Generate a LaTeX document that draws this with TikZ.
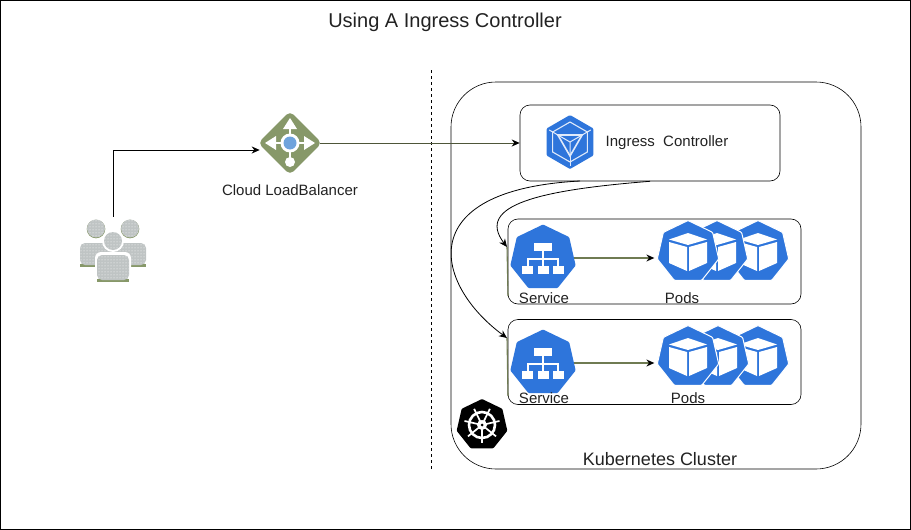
\documentclass[tikz,border=0pt]{standalone}
\usepackage{fontspec}
\setmainfont{Liberation Sans}
\usetikzlibrary{arrows,arrows.meta,calc,patterns,shapes.geometric}
\definecolor{kubeblue}{HTML}{2E75DB}
\definecolor{lbolive}{HTML}{879869}
\definecolor{edgeolive}{HTML}{6F7B52}
\definecolor{peoplegrey}{HTML}{BFC4C4}
\definecolor{txtdark}{HTML}{222222}
\definecolor{lbblue}{HTML}{6FA3DC}
\tikzset{
  pics/svcicon/.style={code={
    \path[fill=white] (-9,-15) rectangle (9,-7);
    \foreach \x in {-21,-5,10} {\path[fill=white] (\x,8) rectangle ++(11,8);}
    \path[draw=white,line width=1.4pt,-] (0,-7) -- (0,1);
    \path[draw=white,line width=1.4pt,-] (-15,8) -- (-15,1) -- (15,1) -- (15,8);
    \path[draw=white,line width=1.4pt,-] (0,1) -- (0,8);
  }},
  pics/cubeicon/.style={code={
    \path[fill=white] (0,-19) -- (19,-12.5) -- (0,-7) -- (-19,-12.5) -- cycle;
    \path[fill=white] (-19,-10) -- (-1,-5) -- (-1,19) -- (-19,11) -- cycle;
    \path[fill=white] (19,-10) -- (1,-5) -- (1,19) -- (19,11) -- cycle;
  }},
  pics/lbicon/.style={code={
    \path[draw=white,line width=2.6pt,-] (-19,0) -- (19,0) (0,-19) -- (0,15);
    \path[fill=white] (0,-25) -- (7,-14) -- (-7,-14) -- cycle;
    \path[fill=white] (-25,0) -- (-14,-7) -- (-14,7) -- cycle;
    \path[fill=white] (25,0) -- (14,-7) -- (14,7) -- cycle;
    \path[fill=white] (0,19) circle (5);
    \path[fill=white] (0,0) circle (9.5);
    \path[fill=lbblue] (0,0) circle (6.5);
  }},
  pics/ingicon/.style={code={
    \path[draw=white!85!kubeblue,line width=1.1pt,-] (90:20) -- (30:20) -- (-30:20) -- (-90:20) -- (-150:20) -- (150:20) -- cycle;
    \path[draw=white!85!kubeblue,line width=1.6pt,-] (-150:14) -- (-30:14) -- (90:14) -- cycle;
    \path[draw=white!85!kubeblue,line width=1pt,-] (-150:14) -- (0,0) (-30:14) -- (0,0) (90:14) -- (0,0);
    \foreach \a in {90,-30,-150} {\path[draw=white!85!kubeblue,line width=1pt,-] (\a:14) -- (\a:24);}
  }},
  pics/wheelicon/.style={code={
    \path[draw=white,line width=2.6pt,-] (0,0) circle (13);
    \foreach \a in {90,141,193,244,296,347,39} {\path[draw=white,line width=1.7pt,-] (\a:3) -- (\a:18);}
    \path[fill=white] (0,0) circle (5);
    \path[fill=black] (0,0) circle (1.5);
  }},
  pics/peopleicon/.style={code={
    \foreach \x in {-17,17} {
      \path[fill=lbolive] (\x-16,14) rectangle (\x+16,17);
      \path[fill=peoplegrey,postaction={pattern=dots,pattern color=white},rounded corners=5pt]
        (\x-16,15) -- (\x-16,-7) -- (\x+16,-7) -- (\x+16,15) -- cycle;
      \path[fill=lbolive] (\x,-21) circle (9.3);
      \path[fill=peoplegrey,postaction={pattern=dots,pattern color=white}] (\x,-21.5) circle (9);
    }
    \path[fill=white,rounded corners=6pt] (-18,33) -- (-18,2) -- (18,2) -- (18,33) -- cycle;
    \path[fill=white] (0,-9) circle (11);
    \path[fill=lbolive] (-16,29) rectangle (16,32);
    \path[fill=peoplegrey,postaction={pattern=dots,pattern color=white},rounded corners=5pt]
      (-16,30) -- (-16,5) -- (16,5) -- (16,30) -- cycle;
    \path[fill=peoplegrey,postaction={pattern=dots,pattern color=white}] (0,-9) circle (9);
  }}
}

\begin{document}
\begin{tikzpicture}[->,>={Stealth[length=8pt,width=7pt,black]},x=1pt,y=-1pt,semithick,
                    every node/.style={text=txtdark,font=\fontsize{15}{17}\selectfont}]
  \tikzstyle{cluster}=[rectangle,draw=black,fill=white,rounded corners=45pt,minimum width=410pt,minimum height=387pt,inner sep=0pt]
  \tikzstyle{place}=[rectangle,draw=black,fill=white,rounded corners=10pt,minimum width=293pt,minimum height=85pt,inner sep=0pt]
  \tikzstyle{svc}=[regular polygon,regular polygon sides=7,fill=kubeblue,minimum size=67pt,inner sep=0pt,rounded corners=1pt]
  \tikzstyle{pod}=[regular polygon,regular polygon sides=7,fill=kubeblue,draw=white,line width=1pt,minimum size=63pt,inner sep=0pt,rounded corners=1pt]
  \tikzstyle{link}=[draw=edgeolive!70!black,line width=.9pt,shorten <=-2pt]
  \tikzstyle{hop}=[draw=edgeolive,line width=1.4pt,shorten >=4pt]

  \useasboundingbox (0,0) rectangle (911,530);
  \path[draw=black,line width=1pt] (0.5,0.5) rectangle (910.5,529.5);

  \node (title) at (445,22) {\fontsize{20}{23}\selectfont Using A Ingress Controller};

  \node[minimum width=68pt,minimum height=66pt,inner sep=0pt] (user) at (113,250) {};
  \pic at (user) {peopleicon};
  \node[diamond,aspect=1,fill=lbolive,minimum size=64pt,inner sep=0pt,rounded corners=5pt] (lb) at (290,143) {};
  \pic at (lb) {lbicon};
  \node[below of=lb,node distance=47pt] (lblabel) {Cloud LoadBalancer};

  \coordinate (divtop) at (431,70);
  \coordinate (divend) at (431,470);
  \path[draw=black,dashed,-,line width=.8pt] (divtop) -- (divend);

  \node[cluster] (cluster) at (656,275.5) {};
  \node (clusterlabel) at (660,459) {\fontsize{18}{20}\selectfont Kubernetes Cluster};
  \node[regular polygon,regular polygon sides=7,fill=black,minimum size=52pt,inner sep=0pt,rounded corners=1pt] (k8s) at (482,425) {};
  \pic at (k8s) {wheelicon};

  \node[rectangle,draw=black,fill=white,rounded corners=10pt,minimum width=260pt,minimum height=76pt,inner sep=0pt] (ing) at (650,143) {};
  \node[regular polygon,regular polygon sides=6,regular polygon rotate=30,fill=kubeblue,minimum size=54pt,inner sep=0pt,rounded corners=1pt] (ingicon) at (570,142) {};
  \pic at (ingicon) {ingicon};
  \node (inglabel) at (667,143) {Ingress\ \ Controller};

  \node[place] (box1) at (654.5,261.5) {};
  \node[place] (box2) at (654.5,362) {};

  \node[svc] (svc1) at (543,258) {};
  \pic at (svc1) {svcicon};
  \node[svc] (svc2) at (543,363) {};
  \pic at (svc2) {svcicon};

  \node[pod] (pod13) at (758,252) {};
  \pic at (pod13) {cubeicon};
  \node[pod,left of=pod13,node distance=41pt] (pod12) {};
  \pic at (pod12) {cubeicon};
  \node[pod,left of=pod12,node distance=29pt] (pod11) {};
  \pic at (pod11) {cubeicon};

  \node[pod] (pod23) at (758,357) {};
  \pic at (pod23) {cubeicon};
  \node[pod,left of=pod23,node distance=40pt] (pod22) {};
  \pic at (pod22) {cubeicon};
  \node[pod,left of=pod22,node distance=30pt] (pod21) {};
  \pic at (pod21) {cubeicon};

  \node (svclabel1) at (544,298) {Service};
  \node (podlabel1) at (682,298) {Pods};
  \node (svclabel2) at (544,398) {Service};
  \node (podlabel2) at (688,398) {Pods};

  \coordinate (lbin) at ($(lb.west)+(2,7)$);
  \coordinate (ingout) at (580,181);
  \coordinate (svcin1) at (507,247);
  \coordinate (svcin2) at (507,338);
  \coordinate (boxend1) at (508,296);
  \coordinate (boxend2) at (508,396);

  \path[draw=edgeolive,-,line width=1.1pt] (svcin1) -- (boxend1);
  \path[draw=edgeolive,-,line width=1.1pt] (svcin2) -- (boxend2);

  \draw[black,line width=.9pt] (user.north) |- (lbin);
  \path[link,->] (lb.east) -- (ing.west);
  \draw[black,line width=.8pt] (ing.south) .. controls (540,190) and (475,205) .. (svcin1);
  \draw[black,line width=.8pt] (ingout) .. controls (410,190) and (435,285) .. (svcin2);
  \path[hop,->] (svc1.east) -- (svc1.east -| pod11.west);
  \path[hop,->] (svc2.east) -- (svc2.east -| pod21.west);
\end{tikzpicture}
\end{document}
